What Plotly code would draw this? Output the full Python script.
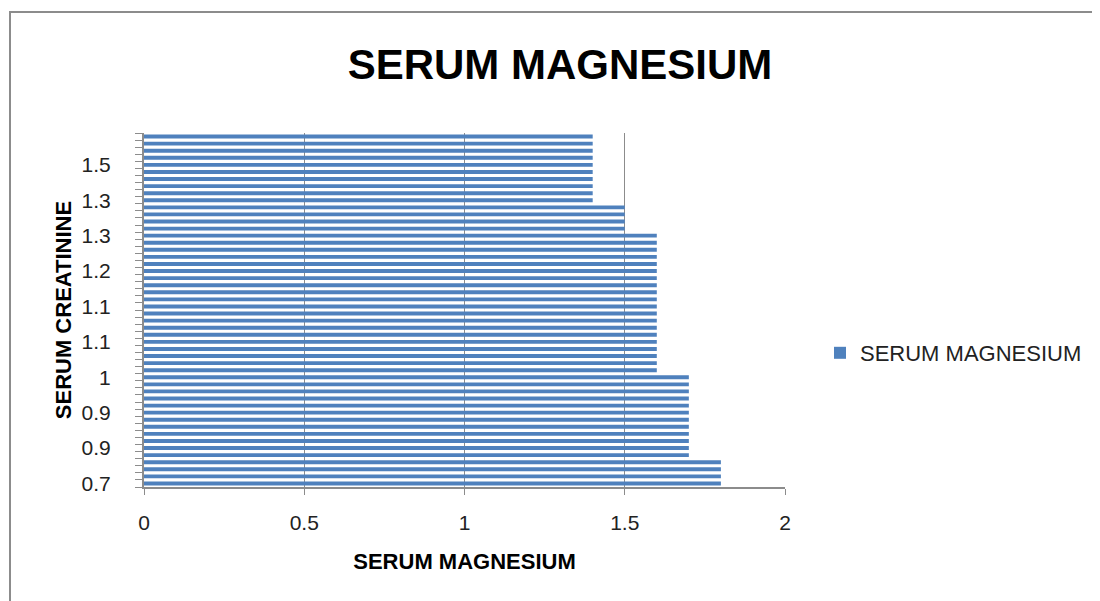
import plotly.graph_objects as go

# Category positions (50 patients, bottom to top) and serum magnesium values
categories = list(range(1, 51))
magnesium = [1.8] * 4 + [1.7] * 12 + [1.6] * 20 + [1.5] * 4 + [1.4] * 10

# Serum creatinine tick labels shown on every 5th category
tick_positions = [1, 6, 11, 16, 21, 26, 31, 36, 41, 46]
tick_labels = ["0.7", "0.9", "0.9", "1", "1.1", "1.1", "1.2", "1.3", "1.3", "1.5"]

BLUE = "#4F81BD"
GRID = "#8C8C8C"
FONT = "Liberation Sans, Arial, sans-serif"

OFF = 8  # page body margin
L, R, T, B = 144 - OFF, 785 - OFF, 133 - OFF, 487 - OFF
W, H = 1100, 601

fig = go.Figure(
    go.Bar(
        x=magnesium,
        y=categories,
        orientation="h",
        name="SERUM MAGNESIUM",
        marker=dict(color=BLUE, line=dict(width=0)),
        showlegend=True,
    )
)

fig.update_layout(
    width=W,
    height=H,
    margin=dict(l=L, r=W - R, t=T, b=H - B, pad=0),
    paper_bgcolor="white",
    plot_bgcolor="white",
    bargap=0.45,
    title=dict(
        text="<b>SERUM MAGNESIUM</b>",
        x=(560 - OFF) / W,
        xanchor="center",
        y=1 - (64 - OFF) / H,
        yanchor="middle",
        font=dict(family=FONT, size=42, color="black"),
    ),
    xaxis=dict(
        range=[0, 2],
        tickmode="array",
        tickvals=[0, 0.5, 1, 1.5, 2],
        ticktext=["0", "0.5", "1", "1.5", "2"],
        showgrid=True,
        gridcolor=GRID,
        gridwidth=1,
        showline=True,
        linecolor=GRID,
        linewidth=2,
        ticks="outside",
        ticklen=6,
        tickcolor=GRID,
        ticklabelstandoff=10,
        tickfont=dict(family=FONT, size=21, color="#222222"),
        zeroline=False,
        title=dict(
            text="<b>SERUM MAGNESIUM</b>",
            font=dict(family=FONT, size=22, color="black"),
            standoff=20,
        ),
    ),
    yaxis=dict(
        range=[0.5, 50.5],
        tickmode="array",
        tickvals=tick_positions,
        ticktext=tick_labels,
        ticks="",
        showgrid=False,
        showline=True,
        linecolor=GRID,
        linewidth=2,
        zeroline=False,
        ticklabelstandoff=27,
        tickfont=dict(family=FONT, size=21, color="#222222"),
        minor=dict(
            tickmode="linear",
            tick0=0.5,
            dtick=1,
            ticks="outside",
            ticklen=7,
            tickcolor=GRID,
            tickwidth=1,
            showgrid=False,
        ),
        title=dict(
            text="<b>SERUM CREATININE</b>",
            font=dict(family=FONT, size=22, color="black"),
            standoff=4,
        ),
    ),
    legend=dict(
        x=(820 - OFF - L) / (R - L),
        xanchor="left",
        y=(B - (353 - OFF)) / (B - T),
        yanchor="middle",
        font=dict(family=FONT, size=22, color="#222222"),
        bgcolor="rgba(0,0,0,0)",
        itemwidth=30,
    ),
    shapes=[
        dict(
            type="rect",
            xref="paper",
            yref="paper",
            x0=(10 - OFF - L) / (R - L),
            x1=(1120 - L) / (R - L),
            y0=(B - 620) / (B - T),
            y1=(B - (12 - OFF)) / (B - T),
            line=dict(color="#8C8C8C", width=2),
            fillcolor="rgba(0,0,0,0)",
            layer="below",
        )
    ],
)

fig.write_html("out.html")
